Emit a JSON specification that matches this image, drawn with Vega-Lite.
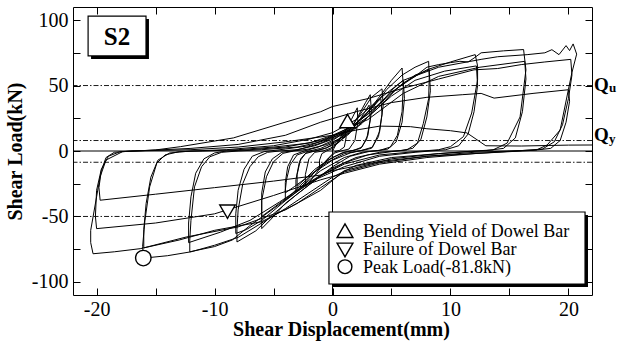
{
  "$schema": "https://vega.github.io/schema/vega-lite/v6.json",
  "width": 519,
  "height": 288,
  "autosize": {"type": "none"},
  "padding": {"left": 73, "top": 7, "right": 26, "bottom": 48},
  "background": "white",
  "config": {
    "font": "Liberation Serif, serif",
    "view": {"stroke": "black", "strokeWidth": 1},
    "text": {"font": "Liberation Serif, serif"},
    "axis": {"grid": false, "domain": false, "tickColor": "black", "labelColor": "black", "titleColor": "black", "labelFont": "Liberation Serif, serif", "titleFont": "Liberation Serif, serif"}
  },
  "data": {"values": [{}]},
  "resolve": {"axis": {"x": "independent", "y": "independent"}},
  "layer": [
    {
      "data": {"values": [{"level": 50}, {"level": 8}, {"level": -8.6}, {"level": -50}]},
      "mark": {"type": "rule", "stroke": "black", "strokeWidth": 0.9, "strokeDash": [5, 2, 1.5, 2]},
      "encoding": {
        "y": {"field": "level", "type": "quantitative", "scale": {"domain": [-110, 110], "nice": false, "zero": false}, "axis": null}
      }
    },
    {
      "mark": {"type": "rule", "stroke": "black", "strokeWidth": 1},
      "encoding": {
        "x": {"datum": 0, "type": "quantitative", "scale": {"domain": [-22, 22], "nice": false, "zero": false}, "axis": null}
      }
    },
    {
      "mark": {"type": "rule", "stroke": "black", "strokeWidth": 1},
      "encoding": {
        "y": {"datum": 0, "type": "quantitative", "scale": {"domain": [-110, 110], "nice": false, "zero": false}, "axis": null}
      }
    },
    {
      "data": {"values": [
        {"x":0,"y":0},{"x":0.3,"y":5},{"x":0.7,"y":11},{"x":1.1,"y":16},
        {"x":1.15,"y":10},{"x":1.0,"y":3},{"x":0.6,"y":0.5},{"x":0.2,"y":-0.5},
        {"x":-0.3,"y":-5},{"x":-0.8,"y":-10},{"x":-1.1,"y":-13},
        {"x":-1.1,"y":-7},{"x":-0.9,"y":-2},{"x":-0.5,"y":0},
        {"x":0,"y":2},{"x":0.5,"y":7},{"x":1.1,"y":15},{"x":1.6,"y":24},{"x":2.1,"y":33},
        {"x":2.15,"y":22},{"x":1.9,"y":8},{"x":1.4,"y":1.5},{"x":0.8,"y":0.2},
        {"x":0.2,"y":-1.5},{"x":-0.5,"y":-7},{"x":-1.2,"y":-15},{"x":-1.8,"y":-22},{"x":-2.3,"y":-27},
        {"x":-2.3,"y":-18},{"x":-2.0,"y":-6},{"x":-1.5,"y":-1},{"x":-0.8,"y":0},
        {"x":-0.2,"y":2},{"x":0.6,"y":7},{"x":1.4,"y":15},{"x":2.2,"y":27},{"x":2.8,"y":37},{"x":3.2,"y":43},
        {"x":3.3,"y":30},{"x":3.0,"y":12},{"x":2.5,"y":3},{"x":1.8,"y":0.5},
        {"x":1,"y":-1},{"x":0,"y":-5},{"x":-1,"y":-11},{"x":-2,"y":-21},{"x":-2.7,"y":-28},{"x":-3.1,"y":-31},
        {"x":-3.1,"y":-22},{"x":-2.8,"y":-8},{"x":-2.3,"y":-2},{"x":-1.5,"y":0},
        {"x":-0.6,"y":2},{"x":0.4,"y":6},{"x":1.4,"y":13},{"x":2.4,"y":25},{"x":3.1,"y":35},
        {"x":3.2,"y":24},{"x":2.9,"y":9},{"x":2.4,"y":2},{"x":1.7,"y":0.4},
        {"x":0.8,"y":-1.5},{"x":-0.4,"y":-7},{"x":-1.5,"y":-14},{"x":-2.4,"y":-22},{"x":-3.0,"y":-27},
        {"x":-3.0,"y":-18},{"x":-2.7,"y":-6},{"x":-2.2,"y":-1},{"x":-1.4,"y":0},
        {"x":-0.5,"y":2.5},{"x":0.5,"y":8},{"x":1.5,"y":17},{"x":2.5,"y":30},{"x":3.3,"y":41},{"x":4.2,"y":47.5},
        {"x":4.3,"y":35},{"x":4.0,"y":15},{"x":3.4,"y":3},{"x":2.5,"y":0.5},
        {"x":1.5,"y":-1.5},{"x":0,"y":-7},{"x":-1.5,"y":-16},{"x":-2.8,"y":-27},{"x":-4,"y":-37.6},
        {"x":-4.0,"y":-30},{"x":-3.9,"y":-22},{"x":-3.6,"y":-10.7},{"x":-3.0,"y":-3},{"x":-2.2,"y":-0.5},
        {"x":-1,"y":2},{"x":0,"y":6},{"x":1.2,"y":13},{"x":2.5,"y":25},{"x":3.5,"y":35},{"x":4.1,"y":40},
        {"x":4.2,"y":28},{"x":3.9,"y":11},{"x":3.3,"y":2},{"x":2.4,"y":0.3},
        {"x":1,"y":-2},{"x":-0.5,"y":-9},{"x":-2,"y":-19},{"x":-3.2,"y":-27},{"x":-4,"y":-32},
        {"x":-4,"y":-24},{"x":-3.8,"y":-12},{"x":-3.3,"y":-3},{"x":-2.4,"y":0},
        {"x":-1.2,"y":3},{"x":0,"y":8},{"x":1.5,"y":17},{"x":3,"y":30},{"x":4.2,"y":44},{"x":5,"y":54},{"x":5.9,"y":63.4},
        {"x":6.0,"y":50},{"x":5.9,"y":30},{"x":5.5,"y":12},{"x":4.9,"y":3},{"x":4.0,"y":0.5},
        {"x":3,"y":-0.5},{"x":1.5,"y":-4},{"x":0,"y":-12},{"x":-2,"y":-26},{"x":-4,"y":-40},{"x":-5.2,"y":-52},{"x":-6,"y":-59.3},
        {"x":-6,"y":-37.6},{"x":-5.6,"y":-19.7},{"x":-5,"y":-8.2},{"x":-4.2,"y":-1.8},{"x":-3.3,"y":0},
        {"x":-2,"y":1.5},{"x":-0.5,"y":5},{"x":1,"y":11},{"x":2.5,"y":21},{"x":4,"y":36},{"x":5.2,"y":48},{"x":6.0,"y":54},
        {"x":6.1,"y":40},{"x":5.9,"y":22},{"x":5.4,"y":7},{"x":4.7,"y":1.5},{"x":3.8,"y":0.3},
        {"x":2.5,"y":-1},{"x":1,"y":-5},{"x":-1,"y":-15},{"x":-3,"y":-30},{"x":-4.8,"y":-42},{"x":-6,"y":-50},
        {"x":-6,"y":-32},{"x":-5.7,"y":-16},{"x":-5.1,"y":-6},{"x":-4.3,"y":-1},{"x":-3.4,"y":0},
        {"x":-2.5,"y":2},{"x":-1,"y":6},{"x":0.5,"y":12},{"x":2,"y":21},{"x":3.5,"y":34},{"x":4.6,"y":47},{"x":5.9,"y":58},{"x":7,"y":64},{"x":8.15,"y":68.5},
        {"x":8.2,"y":56},{"x":8.15,"y":40},{"x":7.7,"y":21},{"x":7.2,"y":6},{"x":6.3,"y":0.8},
        {"x":5,"y":-0.5},{"x":3,"y":-3},{"x":1,"y":-9},{"x":-1,"y":-19},{"x":-3,"y":-33},{"x":-5,"y":-48},{"x":-6.5,"y":-61},{"x":-8.1,"y":-69.5},
        {"x":-8.1,"y":-60},{"x":-8,"y":-45},{"x":-7.6,"y":-24.8},{"x":-7,"y":-12},{"x":-6.3,"y":-4.4},{"x":-5.5,"y":-1},{"x":-4.5,"y":0},
        {"x":-3,"y":1},{"x":-1.5,"y":4},{"x":0,"y":9},{"x":2,"y":18},{"x":4,"y":34},{"x":5.5,"y":48},{"x":7,"y":58},{"x":8.2,"y":62},
        {"x":8.3,"y":46},{"x":8.0,"y":26},{"x":7.5,"y":9},{"x":6.8,"y":2},{"x":5.8,"y":0.4},
        {"x":4,"y":-1},{"x":2,"y":-5},{"x":0,"y":-13},{"x":-2,"y":-24},{"x":-4,"y":-38},{"x":-6,"y":-53},{"x":-7.3,"y":-60},{"x":-8.2,"y":-63},
        {"x":-8.2,"y":-48},{"x":-8,"y":-30},{"x":-7.5,"y":-14},{"x":-6.8,"y":-4},{"x":-5.8,"y":-0.5},
        {"x":-4,"y":1.5},{"x":-2,"y":4},{"x":0,"y":11},{"x":2,"y":21},{"x":4,"y":36},{"x":6,"y":52},{"x":8,"y":62},{"x":10,"y":68},{"x":12.1,"y":73.6},
        {"x":12.3,"y":65},{"x":12.3,"y":54.4},{"x":11.8,"y":29},{"x":11.1,"y":11},{"x":10,"y":3.3},{"x":9,"y":1},
        {"x":7,"y":-0.5},{"x":4,"y":-3},{"x":1,"y":-10},{"x":-1,"y":-19},{"x":-3,"y":-31},{"x":-5,"y":-44},{"x":-7,"y":-57},{"x":-8.5,"y":-68},{"x":-10,"y":-73},{"x":-12.1,"y":-77},
        {"x":-12.1,"y":-68},{"x":-12,"y":-53},{"x":-11.7,"y":-27.4},{"x":-11.1,"y":-12},{"x":-10.4,"y":-4.4},{"x":-9.4,"y":-1},{"x":-8,"y":0},
        {"x":-6,"y":1},{"x":-3,"y":3},{"x":-1,"y":7},{"x":1,"y":14},{"x":3,"y":26},{"x":5,"y":42},{"x":7,"y":54},{"x":9.5,"y":61},{"x":12.2,"y":65},
        {"x":12.3,"y":50},{"x":12,"y":30},{"x":11.5,"y":13},{"x":10.7,"y":4},{"x":9.6,"y":1},
        {"x":7,"y":-1},{"x":4,"y":-4},{"x":1,"y":-12},{"x":-2,"y":-24},{"x":-4.5,"y":-39},{"x":-7,"y":-53},{"x":-9.5,"y":-62},{"x":-12.2,"y":-70},
        {"x":-12.2,"y":-55},{"x":-12,"y":-35},{"x":-11.6,"y":-17},{"x":-10.9,"y":-6},{"x":-10,"y":-1.5},{"x":-9,"y":0},
        {"x":-7,"y":1},{"x":-4,"y":3},{"x":-1,"y":8},{"x":1,"y":15},{"x":3,"y":28},{"x":5,"y":45},{"x":7,"y":57},{"x":8,"y":64},{"x":9,"y":66},{"x":10,"y":67.5},{"x":10.8,"y":68.5},{"x":11.5,"y":68},{"x":12,"y":71},{"x":12.6,"y":75},{"x":14.5,"y":76.5},{"x":16.2,"y":77.5},
        {"x":16.4,"y":62},{"x":15.9,"y":26},{"x":14.8,"y":6},{"x":13.6,"y":0.8},{"x":12,"y":0},
        {"x":9,"y":-2},{"x":5,"y":-5},{"x":2,"y":-11},{"x":0,"y":-20},{"x":-2,"y":-32},{"x":-4,"y":-44},{"x":-6,"y":-55},{"x":-8,"y":-66},{"x":-10,"y":-72},{"x":-12,"y":-77},{"x":-14,"y":-80},{"x":-16,"y":-81.8},
        {"x":-16.1,"y":-73},{"x":-15.9,"y":-53},{"x":-15.5,"y":-27.4},{"x":-14.9,"y":-9.4},{"x":-14.2,"y":-3},{"x":-13,"y":-0.5},{"x":-11,"y":0},
        {"x":-8,"y":1},{"x":-5,"y":3},{"x":-2,"y":6},{"x":0,"y":12},{"x":3,"y":24},{"x":6,"y":44},{"x":9,"y":57},{"x":12.5,"y":64},{"x":16.3,"y":68.5},
        {"x":16.4,"y":55},{"x":16.1,"y":30},{"x":15.5,"y":10},{"x":14.5,"y":2},{"x":13,"y":0.3},
        {"x":9,"y":-2},{"x":5,"y":-6},{"x":1,"y":-15},{"x":-1,"y":-30},{"x":-4,"y":-45},{"x":-8,"y":-58},{"x":-12.4,"y":-65.7},{"x":-16,"y":-74},
        {"x":-16,"y":-60},{"x":-15.8,"y":-40},{"x":-15.4,"y":-20},{"x":-14.8,"y":-7},{"x":-13.8,"y":-1.5},{"x":-12,"y":0},
        {"x":-9,"y":1},{"x":-5,"y":4},{"x":-2,"y":9},{"x":0,"y":14},{"x":2,"y":24},{"x":4,"y":40},{"x":6,"y":54},{"x":9,"y":64},{"x":12.6,"y":70},{"x":14,"y":72},{"x":16.5,"y":73.6},{"x":18,"y":75},{"x":18.6,"y":77.4},{"x":19.2,"y":73.6},{"x":19.8,"y":80.5},{"x":20.1,"y":76.7},{"x":20.4,"y":81.8},
        {"x":20.7,"y":74},{"x":20.3,"y":60},{"x":20,"y":47},{"x":19.3,"y":16},{"x":18.2,"y":4.6},{"x":17.3,"y":0.8},{"x":15,"y":0},
        {"x":12,"y":-1},{"x":8,"y":-4},{"x":4,"y":-9},{"x":1,"y":-16},{"x":-1,"y":-28},{"x":-3,"y":-40},{"x":-6,"y":-54},{"x":-10,"y":-60.6},{"x":-13,"y":-68},{"x":-16.3,"y":-74.6},{"x":-18.5,"y":-77},{"x":-20.3,"y":-78.5},
        {"x":-20.5,"y":-70},{"x":-20.5,"y":-60.6},{"x":-20,"y":-35},{"x":-19.7,"y":-19.7},{"x":-19.2,"y":-6.9},{"x":-17.8,"y":-0.5},{"x":-15,"y":0.8},
        {"x":-12.9,"y":3.3},{"x":-8.4,"y":10},{"x":-4.2,"y":21.5},{"x":-1,"y":30},{"x":0,"y":34},{"x":3,"y":40},{"x":6,"y":48},{"x":9,"y":55},{"x":12,"y":62},{"x":14,"y":63},{"x":16,"y":66},{"x":18,"y":68},{"x":20.2,"y":70},
        {"x":20.3,"y":58},{"x":20,"y":40},{"x":19.5,"y":20},{"x":18.8,"y":7},{"x":17.8,"y":1.5},{"x":16,"y":0.3},
        {"x":12,"y":-2},{"x":8,"y":-5},{"x":4,"y":-10},{"x":1,"y":-17},{"x":-1,"y":-22},{"x":-5,"y":-34},{"x":-10,"y":-48},{"x":-15,"y":-55},{"x":-20,"y":-59.3},
        {"x":-20.1,"y":-50},{"x":-20,"y":-30},{"x":-19.6,"y":-14},{"x":-19,"y":-4},{"x":-18,"y":-0.5},{"x":-16,"y":0.3},
        {"x":-12,"y":2},{"x":-8,"y":5},{"x":-4,"y":12},{"x":-1,"y":22},{"x":2,"y":30},{"x":5,"y":37},{"x":8,"y":41},{"x":11,"y":43},{"x":12.6,"y":44},{"x":13.7,"y":40.4},{"x":17,"y":44},{"x":20,"y":46.8},
        {"x":20.1,"y":38},{"x":19.8,"y":22},{"x":19.3,"y":8},{"x":18.5,"y":2},{"x":17,"y":0.5},
        {"x":12,"y":-2},{"x":8,"y":-4},{"x":4,"y":-8},{"x":0,"y":-15},{"x":-1,"y":-18.4},{"x":-5,"y":-23},{"x":-10,"y":-28},{"x":-15,"y":-33},{"x":-19.7,"y":-37.6},
        {"x":-19.8,"y":-28},{"x":-19.6,"y":-15},{"x":-19.2,"y":-5},{"x":-18.5,"y":-1},{"x":-17,"y":0},
        {"x":-12,"y":1},{"x":-8,"y":3},{"x":-4,"y":7},{"x":0,"y":12},{"x":2,"y":16},{"x":4,"y":19},{"x":6.6,"y":18.6},{"x":8,"y":17},{"x":10,"y":15.5},{"x":11.4,"y":13.8},{"x":13,"y":4},{"x":16,"y":3.8},{"x":20,"y":4.5},{"x":22.5,"y":4.6}
      ]},
      "mark": {"type": "line", "stroke": "black", "strokeWidth": 1, "clip": true},
      "encoding": {
        "x": {"field": "x", "type": "quantitative", "scale": {"domain": [-22, 22], "nice": false, "zero": false},
          "axis": {"orient": "bottom", "values": [-20, -15, -10, -5, 0, 5, 10, 15, 20], "labelExpr": "datum.value % 10 === 0 ? '' + datum.value : ''", "labelOverlap": false, "labelFlush": false, "tickSize": -7, "tickWidth": 1, "labelFontSize": 20, "labelPadding": 11, "title": "Shear Displacement(mm)", "titleFontSize": 20, "titleFontWeight": "bold", "titleX": 268, "titleY": 40, "titleBaseline": "alphabetic", "titleAlign": "center", "titleAnchor": null}},
        "y": {"field": "y", "type": "quantitative", "scale": {"domain": [-110, 110], "nice": false, "zero": false},
          "axis": {"orient": "left", "values": [-100, -75, -50, -25, 0, 25, 50, 75, 100], "labelExpr": "datum.value % 50 === 0 ? '' + datum.value : ''", "labelOverlap": false, "labelFlush": false, "tickSize": -7, "tickWidth": 1, "labelFontSize": 20, "labelPadding": 12, "title": "Shear Load(kN)", "titleFontSize": 20, "titleFontWeight": "bold", "titleX": -52, "titleY": 144, "titleBaseline": "alphabetic", "titleAlign": "center", "titleAngle": -90}},
        "order": {"value": null}
      }
    },
    {
      "data": {"values": [
        {"x": 1.27, "y": 22.9, "event": "Bending Yield of Dowel Bar"},
        {"x": -8.9, "y": -46.4, "event": "Failure of Dowel Bar"},
        {"x": -16.04, "y": -81.8, "event": "Peak Load"}
      ]},
      "mark": {"type": "point", "filled": true, "fill": "white", "stroke": "black", "strokeWidth": 1.4, "opacity": 1},
      "encoding": {
        "x": {"field": "x", "type": "quantitative", "scale": {"domain": [-22, 22], "nice": false, "zero": false},
          "axis": {"orient": "top", "values": [-20, -15, -10, -5, 0, 5, 10, 15, 20], "labels": false, "tickSize": -7, "tickWidth": 1, "title": null}},
        "y": {"field": "y", "type": "quantitative", "scale": {"domain": [-110, 110], "nice": false, "zero": false},
          "axis": {"orient": "right", "values": [-100, -75, -50, -25, 0, 25, 50, 75, 100], "labels": false, "tickSize": -7, "tickWidth": 1, "title": null}},
        "shape": {"field": "event", "type": "nominal", "scale": {"domain": ["Bending Yield of Dowel Bar", "Failure of Dowel Bar", "Peak Load"], "range": ["triangle-up", "triangle-down", "circle"]}, "legend": null},
        "size": {"field": "event", "type": "nominal", "scale": {"domain": ["Bending Yield of Dowel Bar", "Failure of Dowel Bar", "Peak Load"], "range": [240, 240, 190]}, "legend": null}
      }
    },
    {
      "mark": {"type": "rect", "fill": "black"},
      "encoding": {
        "x": {"datum": -20.47, "type": "quantitative", "scale": {"domain": [-22, 22], "nice": false, "zero": false}, "axis": null},
        "x2": {"datum": -15.56},
        "y": {"datum": 100.8, "type": "quantitative", "scale": {"domain": [-110, 110], "nice": false, "zero": false}, "axis": null},
        "y2": {"datum": 70.3}
      }
    },
    {
      "mark": {"type": "rect", "fill": "white", "stroke": "black", "strokeWidth": 1.2},
      "encoding": {
        "x": {"datum": -20.72, "type": "quantitative", "scale": {"domain": [-22, 22], "nice": false, "zero": false}, "axis": null},
        "x2": {"datum": -15.81},
        "y": {"datum": 103.1, "type": "quantitative", "scale": {"domain": [-110, 110], "nice": false, "zero": false}, "axis": null},
        "y2": {"datum": 72.6}
      }
    },
    {
      "mark": {"type": "text", "text": "S2", "font": "Liberation Serif, serif", "fontSize": 25, "fontWeight": "bold", "align": "center", "baseline": "alphabetic", "color": "black"},
      "encoding": {
        "x": {"datum": -18.27, "type": "quantitative", "scale": {"domain": [-22, 22], "nice": false, "zero": false}, "axis": null},
        "y": {"datum": 81.0, "type": "quantitative", "scale": {"domain": [-110, 110], "nice": false, "zero": false}, "axis": null}
      }
    },
    {
      "mark": {"type": "rect", "fill": "black"},
      "encoding": {
        "x": {"datum": -0.04, "type": "quantitative", "scale": {"domain": [-22, 22], "nice": false, "zero": false}, "axis": null},
        "x2": {"datum": 21.66},
        "y": {"datum": -48.9, "type": "quantitative", "scale": {"domain": [-110, 110], "nice": false, "zero": false}, "axis": null},
        "y2": {"datum": -103.9}
      }
    },
    {
      "mark": {"type": "rect", "fill": "white", "stroke": "black", "strokeWidth": 1.2},
      "encoding": {
        "x": {"datum": -0.3, "type": "quantitative", "scale": {"domain": [-22, 22], "nice": false, "zero": false}, "axis": null},
        "x2": {"datum": 21.41},
        "y": {"datum": -46.6, "type": "quantitative", "scale": {"domain": [-110, 110], "nice": false, "zero": false}, "axis": null},
        "y2": {"datum": -101.6}
      }
    },
    {
      "mark": {"type": "point", "shape": "triangle-up", "size": 250, "filled": false, "stroke": "black", "strokeWidth": 1.4, "opacity": 1},
      "encoding": {
        "x": {"datum": 1.06, "type": "quantitative", "scale": {"domain": [-22, 22], "nice": false, "zero": false}, "axis": null},
        "y": {"datum": -60.9, "type": "quantitative", "scale": {"domain": [-110, 110], "nice": false, "zero": false}, "axis": null}
      }
    },
    {
      "mark": {"type": "point", "shape": "triangle-down", "size": 250, "filled": false, "stroke": "black", "strokeWidth": 1.4, "opacity": 1},
      "encoding": {
        "x": {"datum": 1.06, "type": "quantitative", "scale": {"domain": [-22, 22], "nice": false, "zero": false}, "axis": null},
        "y": {"datum": -75.6, "type": "quantitative", "scale": {"domain": [-110, 110], "nice": false, "zero": false}, "axis": null}
      }
    },
    {
      "mark": {"type": "point", "shape": "circle", "size": 190, "filled": false, "stroke": "black", "strokeWidth": 1.4, "opacity": 1},
      "encoding": {
        "x": {"datum": 1.06, "type": "quantitative", "scale": {"domain": [-22, 22], "nice": false, "zero": false}, "axis": null},
        "y": {"datum": -88.4, "type": "quantitative", "scale": {"domain": [-110, 110], "nice": false, "zero": false}, "axis": null}
      }
    },
    {
      "mark": {"type": "text", "text": "Bending Yield of Dowel Bar", "font": "Liberation Serif, serif", "fontSize": 18, "align": "left", "baseline": "alphabetic", "color": "black"},
      "encoding": {
        "x": {"datum": 2.59, "type": "quantitative", "scale": {"domain": [-22, 22], "nice": false, "zero": false}, "axis": null},
        "y": {"datum": -65.5, "type": "quantitative", "scale": {"domain": [-110, 110], "nice": false, "zero": false}, "axis": null}
      }
    },
    {
      "mark": {"type": "text", "text": "Failure of Dowel Bar", "font": "Liberation Serif, serif", "fontSize": 18, "align": "left", "baseline": "alphabetic", "color": "black"},
      "encoding": {
        "x": {"datum": 2.59, "type": "quantitative", "scale": {"domain": [-22, 22], "nice": false, "zero": false}, "axis": null},
        "y": {"datum": -79.4, "type": "quantitative", "scale": {"domain": [-110, 110], "nice": false, "zero": false}, "axis": null}
      }
    },
    {
      "mark": {"type": "text", "text": "Peak Load(-81.8kN)", "font": "Liberation Serif, serif", "fontSize": 18, "align": "left", "baseline": "alphabetic", "color": "black"},
      "encoding": {
        "x": {"datum": 2.59, "type": "quantitative", "scale": {"domain": [-22, 22], "nice": false, "zero": false}, "axis": null},
        "y": {"datum": -93.4, "type": "quantitative", "scale": {"domain": [-110, 110], "nice": false, "zero": false}, "axis": null}
      }
    },
    {
      "mark": {"type": "text", "text": "Q", "font": "Liberation Serif, serif", "fontSize": 19, "fontWeight": "bold", "align": "left", "baseline": "alphabetic", "color": "black"},
      "encoding": {
        "x": {"datum": 22.17, "type": "quantitative", "scale": {"domain": [-22, 22], "nice": false, "zero": false}, "axis": null},
        "y": {"datum": 46.2, "type": "quantitative", "scale": {"domain": [-110, 110], "nice": false, "zero": false}, "axis": null}
      }
    },
    {
      "mark": {"type": "text", "text": "u", "font": "Liberation Serif, serif", "fontSize": 13, "fontWeight": "bold", "align": "left", "baseline": "alphabetic", "color": "black"},
      "encoding": {
        "x": {"datum": 23.45, "type": "quantitative", "scale": {"domain": [-22, 22], "nice": false, "zero": false}, "axis": null},
        "y": {"datum": 45.0, "type": "quantitative", "scale": {"domain": [-110, 110], "nice": false, "zero": false}, "axis": null}
      }
    },
    {
      "mark": {"type": "text", "text": "Q", "font": "Liberation Serif, serif", "fontSize": 19, "fontWeight": "bold", "align": "left", "baseline": "alphabetic", "color": "black"},
      "encoding": {
        "x": {"datum": 22.17, "type": "quantitative", "scale": {"domain": [-22, 22], "nice": false, "zero": false}, "axis": null},
        "y": {"datum": 7.3, "type": "quantitative", "scale": {"domain": [-110, 110], "nice": false, "zero": false}, "axis": null}
      }
    },
    {
      "mark": {"type": "text", "text": "y", "font": "Liberation Serif, serif", "fontSize": 13, "fontWeight": "bold", "align": "left", "baseline": "alphabetic", "color": "black"},
      "encoding": {
        "x": {"datum": 23.45, "type": "quantitative", "scale": {"domain": [-22, 22], "nice": false, "zero": false}, "axis": null},
        "y": {"datum": 6.1, "type": "quantitative", "scale": {"domain": [-110, 110], "nice": false, "zero": false}, "axis": null}
      }
    }
  ]
}
